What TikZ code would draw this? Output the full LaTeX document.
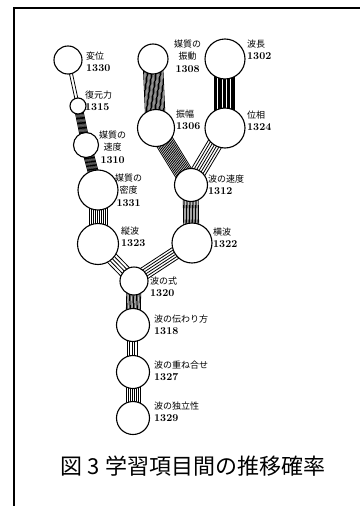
\documentclass[tikz,border=0pt]{standalone}
\usepackage{fontspec}
\newfontfamily\jp{Noto Sans CJK JP}
\usetikzlibrary{calc,backgrounds}

\begin{document}
\begin{tikzpicture}[x=1pt,y=-1pt,font=\fontsize{10.5}{12.5}\selectfont\bfseries,
  item/.style={circle,draw=black,line width=1.1pt,fill=white,inner sep=0pt,minimum size=#1},
  lbl/.style={anchor=west,align=left,inner sep=0pt},
  band/.style={line width=0.8pt}]
\useasboundingbox (0,0) rectangle (360,506);
\draw[line width=1.5pt] (14,506) -- (14,8) -- (360,8);
% learning items
\node[item=28pt] (n1330) at (68,60) {};
\node[item=16pt] (n1315) at (78,106) {};
\node[item=25pt] (n1310) at (86,145) {};
\node[item=40pt] (n1331) at (98,190) {};
\node[item=41pt] (n1323) at (98,244) {};
\node[item=28pt] (n1320) at (134,281) {};
\node[item=33pt] (n1318) at (133,325) {};
\node[item=33pt] (n1327) at (133,372) {};
\node[item=33pt] (n1329) at (133,418) {};
\node[item=30pt] (n1308) at (153,59) {};
\node[item=40pt] (n1302) at (225,59) {};
\node[item=37pt] (n1306) at (156,128) {};
\node[item=40pt] (n1324) at (225,128) {};
\node[item=33pt] (n1312) at (191,185) {};
\node[item=40pt] (n1322) at (192,243) {};
% labels
\node[lbl] (t1330) at (86,62) {{\jp\mdseries\fontsize{9}{12}\selectfont 変位}\\1330};
\node[lbl] (t1315) at (85,101) {{\jp\mdseries\fontsize{9}{12}\selectfont 復元力}\\1315};
\node[lbl,align=center] (t1310) at (99,147) {{\jp\mdseries\fontsize{9}{12}\selectfont 媒質の}\\{\jp\mdseries\fontsize{9}{12}\selectfont 速度}\\1310};
\node[lbl,align=center] (t1331) at (115,190) {{\jp\mdseries\fontsize{9}{12}\selectfont 媒質の}\\{\jp\mdseries\fontsize{9}{12}\selectfont 密度}\\1331};
\node[lbl] (t1323) at (121,237) {{\jp\mdseries\fontsize{9}{12}\selectfont 縦波}\\1323};
\node[lbl,align=center] (t1308) at (174,56) {{\jp\mdseries\fontsize{9}{12}\selectfont 媒質の}\\{\jp\mdseries\fontsize{9}{12}\selectfont 振動}\\1308};
\node[lbl] (t1302) at (247,50) {{\jp\mdseries\fontsize{9}{12}\selectfont 波長}\\1302};
\node[lbl] (t1306) at (176,120) {{\jp\mdseries\fontsize{9}{12}\selectfont 振幅}\\1306};
\node[lbl] (t1324) at (247,121) {{\jp\mdseries\fontsize{9}{12}\selectfont 位相}\\1324};
\node[lbl] (t1312) at (208,185) {{\jp\mdseries\fontsize{9}{12}\selectfont 波の速度}\\1312};
\node[lbl] (t1322) at (213,238) {{\jp\mdseries\fontsize{9}{12}\selectfont 横波}\\1322};
\node[lbl] (t1320) at (150,287) {{\jp\mdseries\fontsize{9}{12}\selectfont 波の式}\\1320};
\node[lbl] (t1318) at (154,325) {{\jp\mdseries\fontsize{9}{12}\selectfont 波の伝わり方}\\1318};
\node[lbl] (t1327) at (154,371) {{\jp\mdseries\fontsize{9}{12}\selectfont 波の重ね合せ}\\1327};
\node[lbl] (t1329) at (154,412) {{\jp\mdseries\fontsize{9}{12}\selectfont 波の独立性}\\1329};
% transition bands
\begin{scope}[on background layer]
\foreach \o in {-1.5,1.5} \draw[band] ($(n1330)!\o pt!90:(n1315)$) -- ($(n1315)!\o pt!-90:(n1330)$);
\foreach \o in {-4,-3,...,4} \draw[band] ($(n1315)!\o pt!90:(n1310)$) -- ($(n1310)!\o pt!-90:(n1315)$);
\foreach \o in {-5,-4,...,5} \draw[band] ($(n1310)!\o pt!90:(n1331)$) -- ($(n1331)!\o pt!-90:(n1310)$);
\foreach \o in {-9,-7,...,9} \draw[band] ($(n1331)!\o pt!90:(n1323)$) -- ($(n1323)!\o pt!-90:(n1331)$);
\foreach \o in {-6,-3,...,6} \draw[band] ($(n1323)!\o pt!90:(n1320)$) -- ($(n1320)!\o pt!-90:(n1323)$);
\foreach \o in {-7,-4.5,...,7} \draw[band] ($(n1322)!\o pt!90:(n1320)$) -- ($(n1320)!\o pt!-90:(n1322)$);
\foreach \o in {-10,-8.7,...,10} \draw[band] ($(n1308)!\o pt!90:(n1306)$) -- ($(n1306)!\o pt!-90:(n1308)$);
\foreach \o in {-11,-9.7,...,11} \draw[band] ($(n1302)!\o pt!90:(n1324)$) -- ($(n1324)!\o pt!-90:(n1302)$);
\foreach \o in {-9,-7.5,...,9} \draw[band] ($(n1306)!\o pt!90:(n1312)$) -- ($(n1312)!\o pt!-90:(n1306)$);
\foreach \o in {-8,-5.5,...,8} \draw[band] ($(n1324)!\o pt!90:(n1312)$) -- ($(n1312)!\o pt!-90:(n1324)$);
\foreach \o in {-8,-6.5,...,8} \draw[band] ($(n1312)!\o pt!90:(n1322)$) -- ($(n1322)!\o pt!-90:(n1312)$);
\foreach \o in {-7,-5.6,...,7} \draw[band] ($(n1320)!\o pt!90:(n1318)$) -- ($(n1318)!\o pt!-90:(n1320)$);
\foreach \o in {-6,-3.5,...,6} \draw[band] ($(n1318)!\o pt!90:(n1327)$) -- ($(n1327)!\o pt!-90:(n1318)$);
\foreach \o in {-7,-5,...,7} \draw[band] ($(n1327)!\o pt!90:(n1329)$) -- ($(n1329)!\o pt!-90:(n1327)$);
\end{scope}
\node[font=\fontsize{22}{26}\selectfont\jp] (cap) at (193,466) {図 3 学習項目間の推移確率};
\end{tikzpicture}
\end{document}
